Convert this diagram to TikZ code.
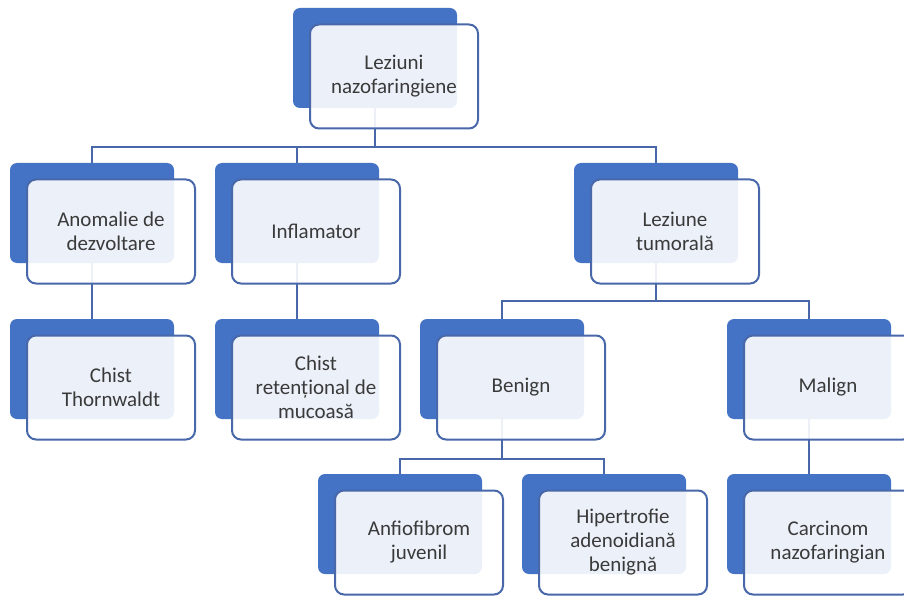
\documentclass[tikz,border=0pt]{standalone}
\usepackage{fontspec}
\setmainfont{Carlito}
\usetikzlibrary{backgrounds}
\definecolor{boxblue}{HTML}{4472C4}
\definecolor{lineblue}{HTML}{4868AA}
\definecolor{txt}{HTML}{3A3A3A}
\newcommand\pairbox[4]{%
  \node[backbox] (#1b) at (#2,#3) {};
  \node[frontbox] (#1) at (#2+19,#3+18.5) {#4};}
\begin{document}
\begin{tikzpicture}[x=1pt,y=-1pt,
  backbox/.style={draw=none, fill=boxblue, rounded corners=7pt, minimum width=164pt, minimum height=100pt, inner sep=0pt},
  frontbox/.style={draw=lineblue, line width=2pt, fill=white, fill opacity=0.9, text opacity=1, rounded corners=9pt, minimum width=168pt, minimum height=104pt, inner sep=0pt, align=center, text=txt, font=\fontsize{21}{24}\selectfont},
  link/.style={draw=lineblue, line width=2.8pt}]
\useasboundingbox (0,0) rectangle (904,596);
\clip (0,0) rectangle (904,596);

\pairbox{top}{375}{58}{Leziuni\\nazofaringiene}
\pairbox{anom}{92}{213}{Anomalie de\\dezvoltare}
\pairbox{infl}{297}{213}{Inflamator}
\pairbox{tum}{656}{213}{Leziune\\tumorală}
\pairbox{thorn}{92}{369}{Chist\\Thornwaldt}
\pairbox{ret}{297}{369}{Chist\\retențional de\\mucoasă}
\pairbox{ben}{502}{369}{Benign}
\pairbox{mal}{809}{369}{Malign}
\pairbox{anf}{400}{524}{Anfiofibrom\\juvenil}
\pairbox{hip}{604}{524}{Hipertrofie\\adenoidiană\\benignă}
\pairbox{car}{809}{524}{Carcinom\\nazofaringian}

\begin{scope}[on background layer]
  \fill[white] (0,0) rectangle (904,596);
  \coordinate (j1) at (375,147);
  \coordinate (j2) at (656,301);
  \coordinate (j3) at (502,459);
  \draw[link] (topb.south) -- (j1) -| (anomb.north);
  \draw[link] (j1) -| (inflb.north);
  \draw[link] (j1) -| (tumb.north);
  \draw[link] (anomb.south) -- (thornb.north);
  \draw[link] (inflb.south) -- (retb.north);
  \draw[link] (tumb.south) -- (j2) -| (benb.north);
  \draw[link] (j2) -| (malb.north);
  \draw[link] (benb.south) -- (j3) -| (anfb.north);
  \draw[link] (j3) -| (hipb.north);
  \draw[link] (malb.south) -- (carb.north);
\end{scope}
\end{tikzpicture}
\end{document}
